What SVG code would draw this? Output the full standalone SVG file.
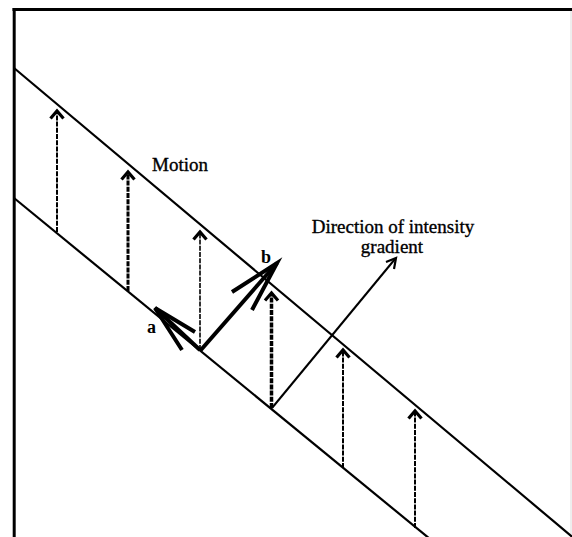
<svg xmlns="http://www.w3.org/2000/svg" width="572" height="537" viewBox="0 0 572 537">
<style>
.ln{stroke:#000;fill:none;stroke-width:2.2}
.dash{stroke:#000;fill:none;stroke-dasharray:5 1.2}
.head{stroke:#000;fill:none;stroke-width:3.2;stroke-linejoin:miter;stroke-linecap:butt}
.thick{stroke:#000;fill:none;stroke-width:4;stroke-linecap:butt}
.t{font-family:"Liberation Serif","Times New Roman",serif;font-size:19px;fill:#000;stroke:#000;stroke-width:0.35}
.lb{font-family:"Liberation Serif","Times New Roman",serif;font-size:18px;font-weight:bold;fill:#000}
</style>
<rect width="572" height="537" fill="#fff"/>
<g id="frame">
<line x1="12.5" y1="9.5" x2="572" y2="9.5" stroke="#000" stroke-width="2.8"/>
<line x1="14.2" y1="8" x2="14.2" y2="537" stroke="#000" stroke-width="3"/>
<line x1="571" y1="11" x2="571" y2="537" stroke="#ddd" stroke-width="1"/>
</g>
<g id="edges">
<line class="ln" x1="14" y1="68" x2="575" y2="539.2"/>
<line class="ln" x1="14" y1="198" x2="430" y2="539"/>
</g>
<g id="vectors">
<line class="dash" x1="57" y1="232" x2="57" y2="113" stroke-width="2"/>
<path class="head" d="M50.5 118.5 L57 111 L63.5 118.5"/>
<line class="dash" x1="128" y1="291" x2="128" y2="174" stroke-width="3"/>
<path class="head" d="M121.5 179.5 L128 172 L134.5 179.5"/>
<line class="dash" x1="200" y1="350" x2="200" y2="234" stroke-width="1.6"/>
<path class="head" d="M193.5 239.5 L200 232 L206.5 239.5"/>
<line class="dash" x1="271.5" y1="408" x2="271.5" y2="295" stroke-width="3.5"/>
<path class="head" d="M265 300.5 L271.5 293 L278 300.5"/>
<line class="dash" x1="343" y1="468" x2="343" y2="352" stroke-width="2"/>
<path class="head" d="M336.5 357.5 L343 350 L349.5 357.5"/>
<line class="dash" x1="415" y1="528" x2="415" y2="413" stroke-width="2"/>
<path class="head" d="M408.5 418.5 L415 411 L421.5 418.5"/>
</g>
<g id="arrow-a">
<line class="thick" x1="200" y1="350" x2="155" y2="308"/>
<path class="thick" d="M195 332 L155 308 L182 350"/>
<text class="lb" x="147" y="333">a</text>
</g>
<g id="arrow-b">
<line class="thick" x1="200" y1="351" x2="277" y2="263"/>
<path class="thick" d="M232 292 L277 263 L252 310"/>
<text class="lb" x="261" y="263">b</text>
</g>
<g id="gradient">
<line x1="272" y1="408" x2="395" y2="259" stroke="#000" stroke-width="2"/>
<path d="M386 262 L396 258 L394 269" stroke="#000" stroke-width="2.2" fill="none"/>
<text class="t" x="393" y="233" text-anchor="middle">Direction of intensity</text>
<text class="t" x="392" y="253" text-anchor="middle">gradient</text>
</g>
<g id="motion">
<text class="t" x="152" y="171">Motion</text>
</g>
</svg>
